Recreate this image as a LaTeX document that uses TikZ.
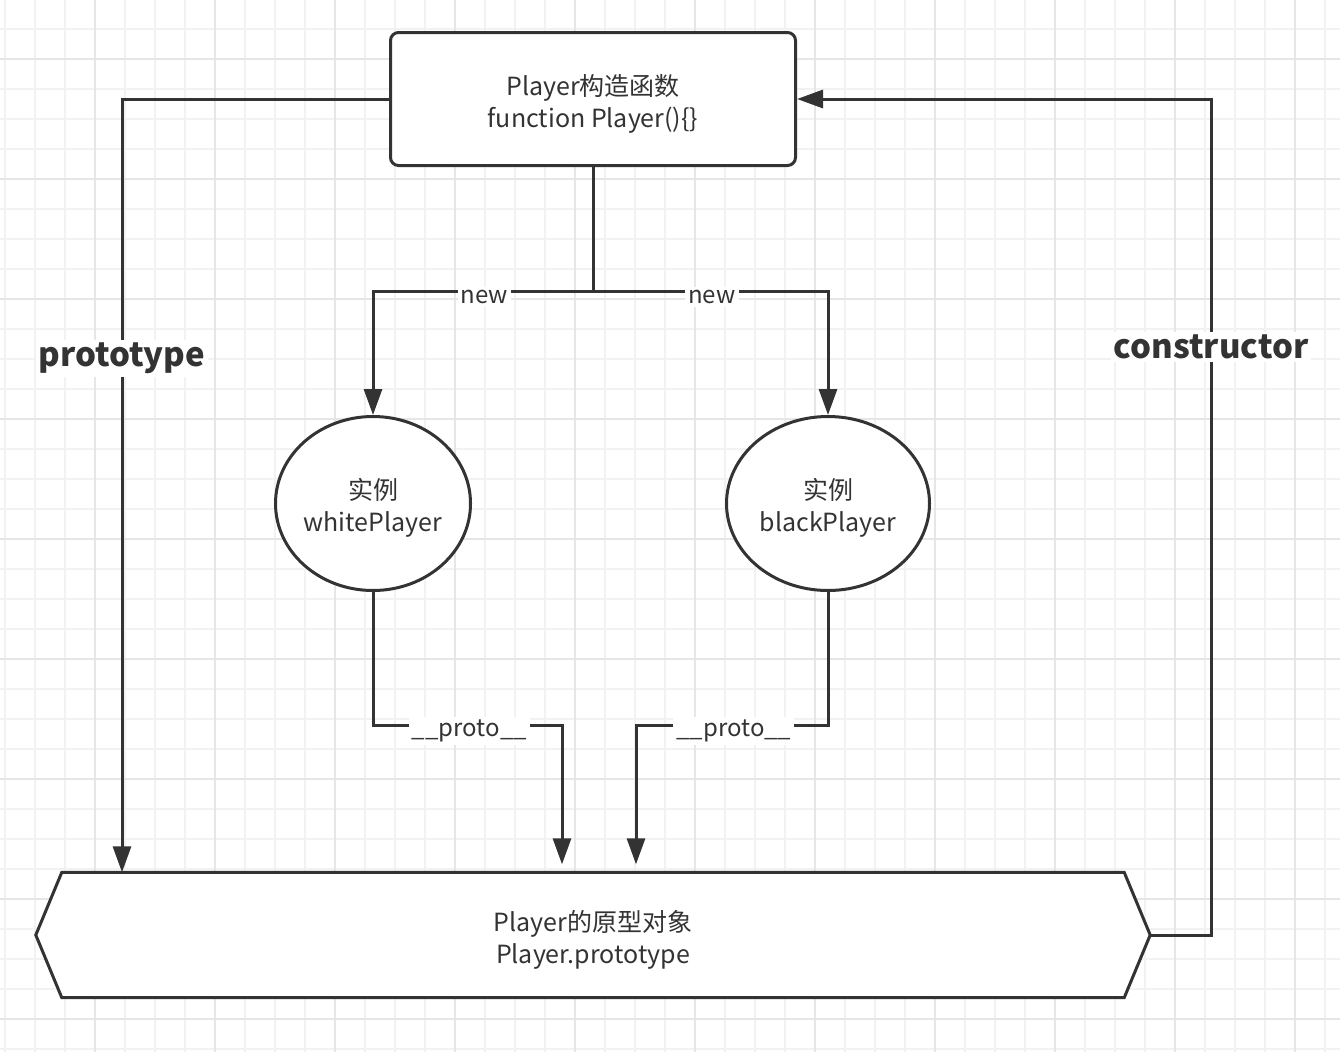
\documentclass[tikz,border=0pt]{standalone}
\usepackage{fontspec}
\setmainfont{Noto Sans CJK SC}
\usetikzlibrary{arrows.meta,shapes.geometric}
\definecolor{ink}{HTML}{333333}
\definecolor{gminor}{HTML}{F2F2F2}
\definecolor{gmajor}{HTML}{E6E6E6}
\tikzset{
  conn/.style={draw=ink, line width=3pt},
  arr/.style={-{Triangle[length=26pt,width=18pt]}},
  txt/.style={text=ink, font=\fontsize{25}{32}\selectfont, align=center, yshift=-4.5pt},
  shp/.style={draw=ink, line width=3pt, fill=white},
  lbl/.style={fill=white, text=ink, font=\fontsize{24}{28}\selectfont, inner sep=3pt, yshift=-6pt},
  biglbl/.style={fill=white, text=ink, font=\fontsize{33}{38}\selectfont\bfseries, inner sep=3pt, yshift=-4pt},
}
\begin{document}
\begin{tikzpicture}[x=1pt,y=-1pt]
\useasboundingbox (0,0) rectangle (1340,1052);
\fill[white] (0,0) rectangle (1340,1052);
% grid
\foreach \i in {0,...,44} \draw[gminor, line width=1.2pt] (5+30*\i,0) -- (5+30*\i,1052);
\foreach \i in {0,...,34} \draw[gminor, line width=1.2pt] (0,29+30*\i) -- (1340,29+30*\i);
\foreach \i in {0,...,10} \draw[gmajor, line width=1.4pt] (95+120*\i,0) -- (95+120*\i,1052);
\foreach \i in {0,...,8} \draw[gmajor, line width=1.4pt] (0,59+120*\i) -- (1340,59+120*\i);

% shapes
\node[shp, rounded corners=8pt, minimum width=405pt, minimum height=133pt, inner sep=0pt] (box) at (593,99) {};
\node[shp, ellipse, minimum width=195pt, minimum height=174pt, inner sep=0pt] (w) at (373,503.5) {};
\node[shp, ellipse, minimum width=203pt, minimum height=174pt, inner sep=0pt] (b) at (828,503.5) {};
\node[minimum width=1114pt, minimum height=125pt, inner sep=0pt] (hex) at (593,935) {};
\draw[shp] (hex.west) -- ([xshift=26pt]hex.north west) -- ([xshift=-26pt]hex.north east) -- (hex.east) -- ([xshift=-26pt]hex.south east) -- ([xshift=26pt]hex.south west) -- cycle;

% texts
\node[txt] (boxt) at (box.center) {Player构造函数\\function Player()\{\}};
\node[txt] (wt) at (w.center) {实例\\whitePlayer};
\node[txt] (bt) at (b.center) {实例\\blackPlayer};
\node[txt] (hext) at (hex.center) {Player的原型对象\\Player.prototype};

% helper coordinates
\coordinate (pl) at (122,0);
\coordinate (cr) at (1211,0);
\coordinate (j) at (593,291);
\coordinate (p1) at (562,725);
\coordinate (p2) at (636,725);

% connectors
\draw[conn, arr] (box.west) -| node[pos=0.665, biglbl] {prototype} (pl |- hex.north);
\draw[conn, arr] (hex.east) -| node[pos=0.854, biglbl] {constructor} (cr |- box.east) -- (box.east);
\draw[conn, arr] (box.south) -- (j) -| node[pos=0.247, lbl] {new} (w.north);
\draw[conn, arr] (box.south) -- (j) -| node[pos=0.253, lbl] {new} (b.north);
\draw[conn, arr, shorten >=8pt] (w.south) |- node[pos=0.755, lbl] {\_\_proto\_\_} (p1) -- (p1 |- hex.north);
\draw[conn, arr, shorten >=8pt] (b.south) |- node[pos=0.745, lbl] {\_\_proto\_\_} (p2) -- (p2 |- hex.north);
\end{tikzpicture}
\end{document}
